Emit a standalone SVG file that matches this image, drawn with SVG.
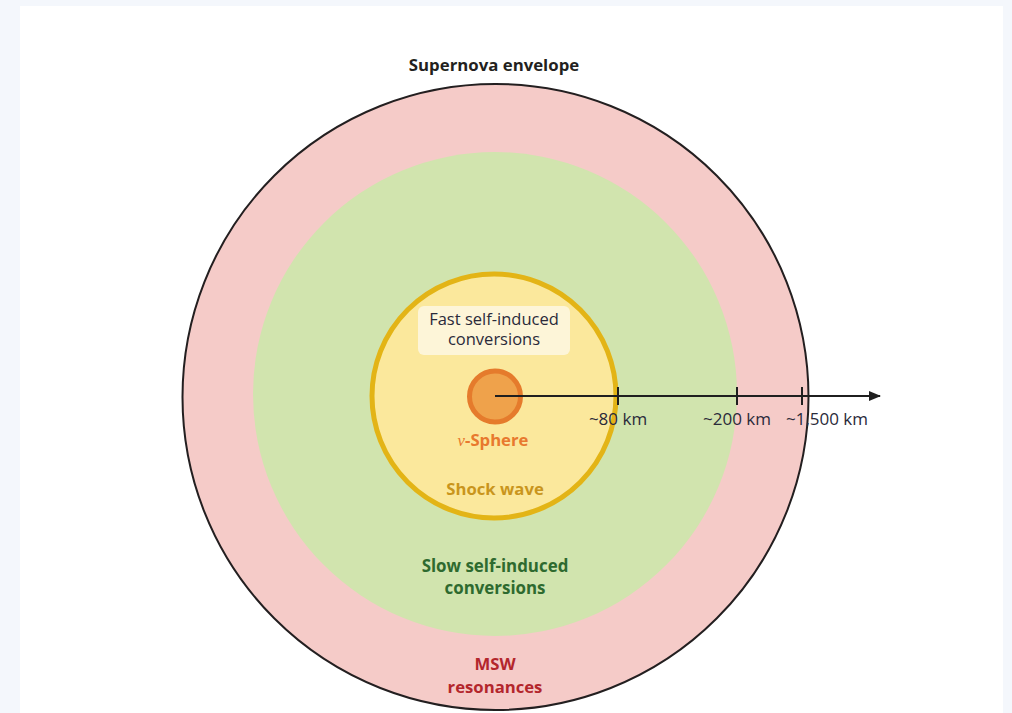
<svg xmlns="http://www.w3.org/2000/svg" width="1012" height="713" viewBox="0 0 1012 713">
<defs>
<style>
.t{font-family:"Open Sans","Noto Sans",sans-serif;text-anchor:middle}
.b{font-weight:bold}
.lbl{font-size:17px;fill:#2a2a3a}
</style>
<marker id="arr" markerWidth="12" markerHeight="10" refX="11" refY="5" orient="auto" markerUnits="userSpaceOnUse">
<path d="M0,0 L12,5 L0,10 Z" fill="#1f1f1f"/>
</marker>
</defs>
<rect x="0" y="0" width="1012" height="713" fill="#f4f7fc"/>
<rect x="20" y="6" width="983" height="707" fill="#ffffff"/>
<g id="envelope">
<circle cx="495.5" cy="397" r="313" fill="#f5cbc8" stroke="#231f20" stroke-width="2"/>
<text class="t b" x="494" y="71" font-size="16.8" fill="#231f20">Supernova envelope</text>
<text class="t b" x="495" y="670" font-size="16.7" fill="#b3262c">MSW</text>
<text class="t b" x="495" y="693" font-size="16.7" fill="#b3262c">resonances</text>
</g>
<g id="slow">
<circle cx="495" cy="394" r="242" fill="#d1e4ae"/>
<text class="t b" x="495" y="572" font-size="16.9" fill="#2e6a2f">Slow self-induced</text>
<text class="t b" x="495" y="594" font-size="16.9" fill="#2e6a2f">conversions</text>
</g>
<g id="shock">
<circle cx="494" cy="396" r="122" fill="#fbe89c" stroke="#e3b416" stroke-width="5"/>
<text class="t b" x="495" y="495" font-size="16.7" fill="#c9951c">Shock wave</text>
</g>
<g id="fast">
<rect x="418" y="306" width="152" height="49" rx="6" fill="#fdf5d8"/>
<text class="t" x="494" y="325" font-size="16.5" fill="#2a2a3a">Fast self-induced</text>
<text class="t" x="494" y="345" font-size="16.5" fill="#2a2a3a">conversions</text>
</g>
<g id="nusphere">
<circle cx="495" cy="396.5" r="25.5" fill="#efa24b" stroke="#e57b2c" stroke-width="5"/>
<text class="t b" x="493" y="446" font-size="16.7" fill="#e8792e"><tspan font-family="Liberation Serif" font-style="italic" font-weight="normal">ν</tspan>-Sphere</text>
</g>
<g id="connectors">
<line x1="495" y1="396" x2="880" y2="396" stroke="#1f1f1f" stroke-width="2.2" marker-end="url(#arr)"/>
<line x1="618" y1="387" x2="618" y2="405" stroke="#1f1f1f" stroke-width="2"/>
<line x1="737" y1="387" x2="737" y2="405" stroke="#1f1f1f" stroke-width="2"/>
<line x1="802" y1="387" x2="802" y2="405" stroke="#1f1f1f" stroke-width="2"/>
</g>
<g id="scale-labels">
<text class="t lbl" x="618" y="425">~80 km</text>
<text class="t lbl" x="737" y="425">~200 km</text>
<text class="t lbl" x="827" y="425">~1,500 km</text>
</g>
</svg>
